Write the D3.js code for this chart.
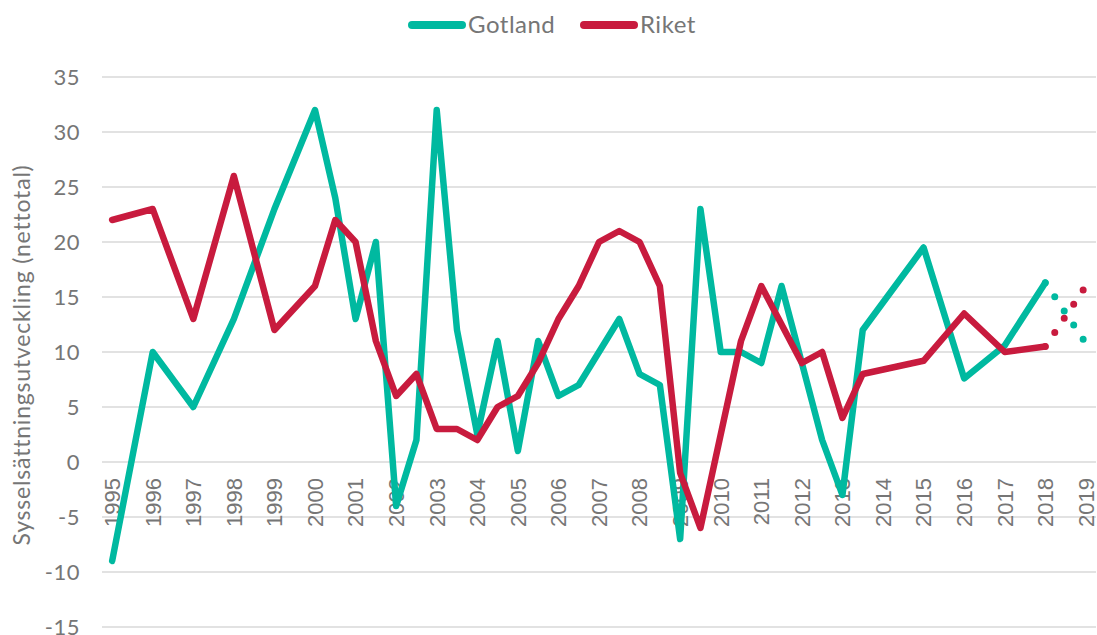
<!DOCTYPE html>
<html>
<head>
<meta charset="utf-8">
<script src="https://cdn.jsdelivr.net/npm/d3@7"></script>
<style>
  body { margin: 0; background: #fff; }
  svg { display: block; }
</style>
</head>
<body>
<div id="chart"></div>
<script>
// half-year periods 1995 .. 2019
const periods = [1995, 1995.5, 1996, 1996.5, 1997, 1997.5, 1998, 1998.5, 1999, 1999.5,
  2000, 2000.5, 2001, 2001.5, 2002, 2002.5, 2003, 2003.5, 2004, 2004.5,
  2005, 2005.5, 2006, 2006.5, 2007, 2007.5, 2008, 2008.5, 2009, 2009.5,
  2010, 2010.5, 2011, 2011.5, 2012, 2012.5, 2013, 2013.5, 2014, 2014.5,
  2015, 2015.5, 2016, 2016.5, 2017, 2017.5, 2018, 2018.5, 2019];

const yearLabels = ["1995", "1996", "1997", "1998", "1999", "2000", "2001", "2002", "2003",
  "2004", "2005", "2006", "2007", "2008", "2009", "2010", "2011", "2012", "2013",
  "2014", "2015", "2016", "2017", "2018", "2019"];

const yTicks = [-15, -10, -5, 0, 5, 10, 15, 20, 25, 30, 35];

// null = no visible vertex
const gotland = [-9, null, 10, null, 5, null, 13, null, 23, null,
  32, 24, 13, 20, -4, 2, 32, 12, 2.5, 11,
  1, 11, 6, 7, null, 13, 8, 7, -7, 23,
  10, 10, 9, 16, 9, 2, -3, 12, null, null,
  19.5, null, 7.6, null, 10.6, null, 16.3, null, null];

const riket = [22, null, 23, null, 13, null, 26, null, 12, null,
  16, 22, 20, 11, 6, 8, 3, 3, 2, 5,
  6, 9, 13, 16, 20, 21, 20, 16, -1, -6,
  null, 11, 16, null, 9, 10, 4, 8, null, null,
  9.2, null, 13.5, null, 10, null, 10.5, null, null];

// forecast segment (dotted)
const forecastPeriods = [2018, 2019];
const gotlandForecast = [16.3, 10.8];
const riketForecast = [10.5, 16];

const colors = { Gotland: "#00b9a0", Riket: "#c81b3e" };

const W = 1097, H = 635;
const svg = d3.select("#chart").append("svg")
  .attr("width", W)
  .attr("height", H);

const x = d3.scalePoint()
  .domain(periods)
  .range([102, 1096])
  .padding(0.5);

const y = d3.scaleLinear()
  .domain([-15, 35])
  .range([627, 77]);

// gridlines
svg.append("g")
  .selectAll("line")
  .data(yTicks)
  .enter().append("line")
  .attr("x1", 102)
  .attr("x2", 1096)
  .attr("y1", d => y(d))
  .attr("y2", d => y(d))
  .attr("stroke", "#d9d9d9")
  .attr("stroke-width", 1.5);

// y axis labels
const yAxis = d3.axisLeft(y).tickValues(yTicks).tickSize(0).tickPadding(0)
  .tickFormat(d => String(d));
const gy = svg.append("g")
  .attr("transform", "translate(80,0)")
  .call(yAxis);
gy.select(".domain").remove();
gy.selectAll("text")
  .style("font-family", "Lato, sans-serif")
  .style("font-size", "22px")
  .style("letter-spacing", "0.5px")
  .attr("fill", "#767676");

// x axis labels (rotated)
svg.append("g")
  .selectAll("text")
  .data(yearLabels)
  .enter().append("text")
  .attr("transform", d => `translate(${x(+d)},478) rotate(-90)`)
  .attr("text-anchor", "end")
  .attr("dy", "0.36em")
  .style("font-family", "'Liberation Sans', Arial, sans-serif")
  .style("font-size", "22px")
  .attr("fill", "#767676")
  .text(d => d);

// y axis title
svg.append("text")
  .attr("transform", "translate(30,355) rotate(-90)")
  .attr("text-anchor", "middle")
  .style("font-family", "Lato, sans-serif")
  .style("font-size", "23px")
  .style("letter-spacing", "0.8px")
  .attr("fill", "#767676")
  .text("Sysselsättningsutveckling (nettotal)");

const line = d3.line()
  .x(d => x(d.p))
  .y(d => y(d.v));

function pts(ps, vs) {
  return ps.map((p, i) => ({ p: p, v: vs[i] })).filter(d => d.v !== null);
}

const series = [
  { name: "Gotland", values: gotland, forecast: gotlandForecast },
  { name: "Riket", values: riket, forecast: riketForecast }
];

series.forEach(s => {
  svg.append("path")
    .datum(pts(periods, s.values))
    .attr("fill", "none")
    .attr("stroke", colors[s.name])
    .attr("stroke-width", 6.5)
    .attr("stroke-linejoin", "round")
    .attr("stroke-linecap", "round")
    .attr("d", line);

  svg.append("path")
    .datum(pts(forecastPeriods, s.forecast))
    .attr("fill", "none")
    .attr("stroke", colors[s.name])
    .attr("stroke-width", 7)
    .attr("stroke-linecap", "round")
    .attr("stroke-dasharray", "0 17")
    .attr("d", line);
});

// legend
const legend = svg.append("g");
const legendItems = [
  { name: "Gotland", x: 408 },
  { name: "Riket", x: 580 }
];
legendItems.forEach(l => {
  legend.append("line")
    .attr("x1", l.x + 4).attr("x2", l.x + 54)
    .attr("y1", 25).attr("y2", 25)
    .attr("stroke", colors[l.name])
    .attr("stroke-width", 8)
    .attr("stroke-linecap", "round");
  legend.append("text")
    .attr("x", l.x + 60)
    .attr("y", 33)
    .style("font-family", "Lato, sans-serif")
    .style("font-size", "24px")
    .style("letter-spacing", "0.5px")
    .attr("fill", "#767676")
    .text(l.name);
});
</script>
</body>
</html>
